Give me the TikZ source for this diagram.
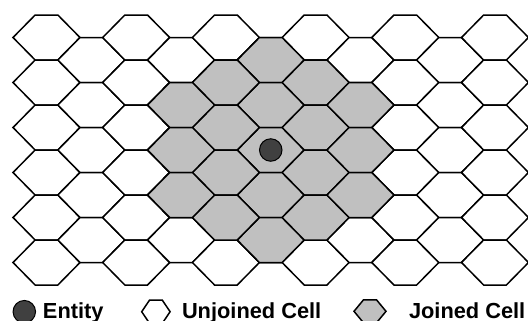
\documentclass[tikz,border=0pt]{standalone}
\usepackage{fontspec}
\setmainfont{Liberation Sans}
\definecolor{joined}{RGB}{192,192,192}
\definecolor{entityfill}{RGB}{64,64,64}
\tikzset{
  cell/.style={draw=black, line width=1.5bp, line join=miter, fill=white},
  joinedcell/.style={cell, fill=joined},
  entity/.style={circle, draw=black, line width=1bp, fill=entityfill, inner sep=0pt, minimum size=22.5bp},
  legendtext/.style={anchor=base west, inner sep=0pt, font=\fontsize{21.8bp}{26bp}\selectfont\bfseries},
}
% hexagon centred at (#1,#2); half width, half top edge, half height
\newcommand{\hexcell}[6]{%
  \path[#1] (#2-#4,#3) -- (#2-#5,#3-#6) -- (#2+#5,#3-#6) -- (#2+#4,#3)
    -- (#2+#5,#3+#6) -- (#2-#5,#3+#6) -- cycle;}
\begin{document}
\begin{tikzpicture}[x=1bp, y=-1bp]
  \useasboundingbox (0,0) rectangle (528,320);
  \clip (0,0) rectangle (528,320);
  % plain grid: even columns hold six cells, odd columns five
  \foreach \c in {0,...,10}{
    \pgfmathsetmacro{\cx}{46.5+44.85*\c}
    \pgfmathtruncatemacro{\odd}{mod(\c,2)}
    \ifnum\odd=0
      \foreach \r in {0,...,5}{
        \pgfmathsetmacro{\cy}{37.5+45*\r}
        \hexcell{cell}{\cx}{\cy}{33.5}{11.35}{22.5}
      }
    \else
      \foreach \r in {0,...,4}{
        \pgfmathsetmacro{\cy}{60+45*\r}
        \hexcell{cell}{\cx}{\cy}{33.5}{11.35}{22.5}
      }
    \fi
  }
  % cells within two steps of the entity
  \foreach \c/\y in {
      5/60, 5/105, 5/150, 5/195, 5/240,
      4/82.5, 4/127.5, 4/172.5, 4/217.5,
      6/82.5, 6/127.5, 6/172.5, 6/217.5,
      3/105, 3/150, 3/195,
      7/105, 7/150, 7/195}{
    \pgfmathsetmacro{\cx}{46.5+44.85*\c}
    \hexcell{joinedcell}{\cx}{\y}{33.5}{11.35}{22.5}
  }
  % the entity
  \node[entity] (ent) at (270.75,150) {};
  % legend
  \node[entity] (legent) at (24.3,311.7) {};
  \node[legendtext] (legenttext) at (42.8,318.3) {Entity};
  \hexcell{cell}{155.9}{311.7}{14.2}{6.3}{11.7}
  \node[legendtext] (legunjoined) at (181.8,318.3) {Unjoined Cell};
  \hexcell{joinedcell}{370}{311.3}{16}{6.5}{11.5}
  \node[legendtext] (legjoined) at (408.8,318.3) {Joined Cell};
\end{tikzpicture}
\end{document}
